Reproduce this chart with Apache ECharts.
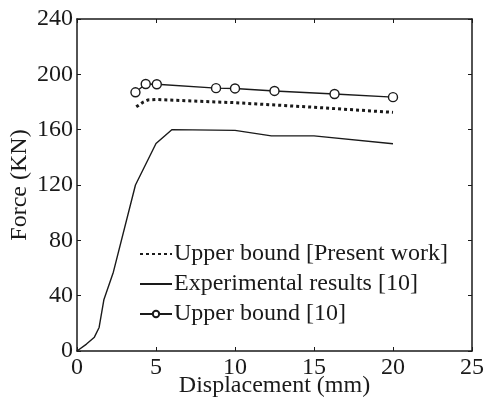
<!DOCTYPE html>
<html lang="en">
<head>
    <meta charset="UTF-8">
    <title>Force - Displacement</title>
    <script src="https://cdn.jsdelivr.net/npm/echarts@6/dist/echarts.min.js"></script>
    <style>
        body { margin: 0; background: #fff; }
    </style>
</head>
<body>
<div id="myChart" style="height: 401px;width: 485px;"></div>
<script>
    // displacement (mm), force (KN)
    var presentWork = [[3.75, 176.5], [4.2, 180], [4.5, 181.5], [5, 181.8], [10, 179.5], [15, 176.2], [20, 172.5]];
    var experimental = [[0, 0], [0.6, 5], [1.1, 10], [1.4, 17], [1.7, 37], [2.3, 57], [3.7, 120], [5, 150], [6, 160],
        [10, 159.5], [12.3, 155.5], [15, 155.5], [20, 149.8]];
    var upperRef = [[3.7, 187], [4.35, 193], [5.05, 192.8], [8.8, 190], [10, 189.8], [12.5, 188], [16.3, 185.8], [20, 183.5]];
    var legendNames = ['Upper bound [Present work]', 'Experimental results [10]', 'Upper bound [10]'];

    var font = "'Liberation Serif', 'Times New Roman', serif";
    var ink = '#1a1a1a';

    var chart = echarts.init(document.getElementById('myChart'));

    function axisBase(pos, max, interval, labels) {
        return {
            type: 'value',
            position: pos,
            min: 0,
            max: max,
            interval: interval,
            axisLine: {show: true, onZero: false, lineStyle: {color: ink, width: 1.5}},
            axisTick: {show: true, inside: true, length: 4, lineStyle: {color: ink, width: 1}},
            axisLabel: {show: labels, color: ink, fontFamily: font, fontSize: 24, margin: 4},
            splitLine: {show: false}
        };
    }

    var xMain = axisBase('bottom', 25, 5, true);
    xMain.name = 'Displacement (mm)';
    xMain.nameLocation = 'middle';
    xMain.nameGap = 23;
    xMain.nameMoveOverlap = false;
    xMain.nameTextStyle = {color: ink, fontFamily: font, fontSize: 24, lineHeight: 24};
    xMain.axisLabel.margin = 5;

    var yMain = axisBase('left', 240, 40, true);
    yMain.name = 'Force (KN)';
    yMain.nameLocation = 'middle';
    yMain.nameGap = 45;
    yMain.nameMoveOverlap = false;
    yMain.nameTextStyle = {color: ink, fontFamily: font, fontSize: 24, lineHeight: 24};

    chart.setOption({
        animation: false,
        backgroundColor: '#fff',
        grid: {left: 77, right: 13, top: 19, bottom: 50, outerBoundsMode: 'none', containLabel: false},
        legend: {
            orient: 'vertical',
            left: 139,
            top: 242,
            padding: 0,
            itemWidth: 32,
            itemHeight: 8,
            itemGap: 6,
            textStyle: {color: ink, fontFamily: font, fontSize: 24, lineHeight: 24, padding: [0, 0, 0, -3]},
            data: [
                {name: legendNames[0], itemStyle: {opacity: 0}},
                {name: legendNames[1], itemStyle: {opacity: 0}},
                {name: legendNames[2]}
            ]
        },
        xAxis: [xMain, axisBase('top', 25, 5, false)],
        yAxis: [yMain, axisBase('right', 240, 40, false)],
        series: [
            {
                name: legendNames[0],
                type: 'line',
                data: presentWork,
                symbol: 'none',
                lineStyle: {color: ink, width: 3, type: [3, 3]},
                itemStyle: {color: ink}
            },
            {
                name: legendNames[1],
                type: 'line',
                data: experimental,
                symbol: 'none',
                lineStyle: {color: ink, width: 1.4},
                itemStyle: {color: ink}
            },
            {
                name: legendNames[2],
                type: 'line',
                data: upperRef,
                symbol: 'circle',
                symbolSize: 9,
                showSymbol: true,
                lineStyle: {color: ink, width: 1.4},
                itemStyle: {color: '#fff', borderColor: ink, borderWidth: 1.4}
            }
        ]
    });
</script>
</body>
</html>
